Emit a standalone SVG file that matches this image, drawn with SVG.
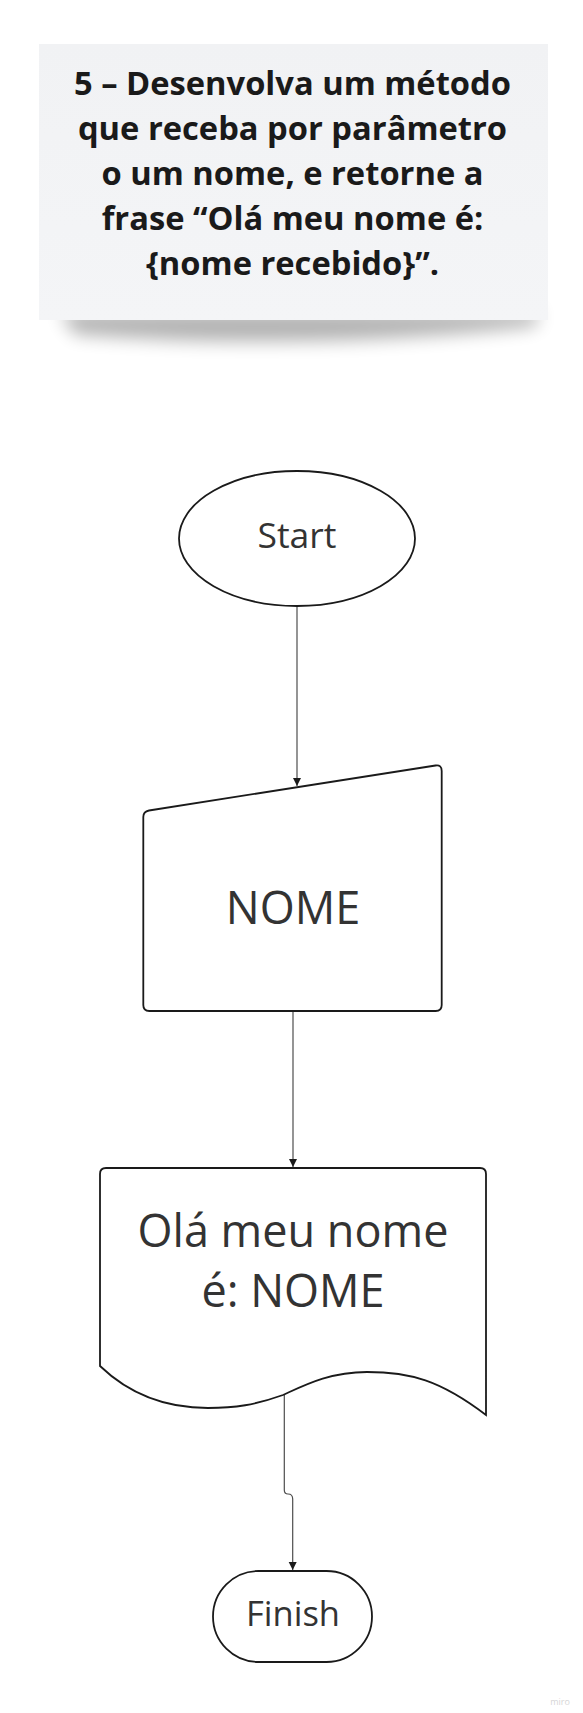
<svg xmlns="http://www.w3.org/2000/svg" width="583" height="1713" viewBox="0 0 583 1713">
<style>
.shape{fill:#ffffff;stroke:#1a1a1a;stroke-width:1.8}
.lbl{font-family:"Open Sans","Noto Sans",sans-serif;fill:#333333;text-anchor:middle}
.title{font-family:"Open Sans","Noto Sans",sans-serif;font-weight:bold;font-size:32.7px;fill:#1a1a1a;text-anchor:middle}
.conn{fill:none;stroke:#4d4d4d;stroke-width:1.2}
</style>
<defs>
<marker id="arr" viewBox="0 0 10 10" refX="10" refY="5" markerWidth="8" markerHeight="16" markerUnits="userSpaceOnUse" orient="auto">
<path d="M0,0 L10,5 L0,10 z" fill="#1a1a1a"/>
</marker>
<filter id="sh" x="-20%" y="-100%" width="140%" height="300%">
<feGaussianBlur stdDeviation="9"/>
</filter>
<linearGradient id="noteg" x1="0" y1="0" x2="0" y2="1">
<stop offset="0" stop-color="#f1f2f4"/>
<stop offset="1" stop-color="#f4f5f7"/>
</linearGradient>
</defs>
<rect width="583" height="1713" fill="#ffffff"/>
<g id="note">
<path d="M60,312 L540,312 L535,326 Q300,352 75,334 Z" fill="#000" opacity="0.3" filter="url(#sh)"/>
<rect x="39" y="44" width="509" height="276" fill="url(#noteg)"/>
<text class="title" x="292.5" y="95">5 – Desenvolva um método</text>
<text class="title" x="292.5" y="140">que receba por parâmetro</text>
<text class="title" x="292.5" y="185">o um nome, e retorne a</text>
<text class="title" x="292.5" y="230">frase “Olá meu nome é:</text>
<text class="title" x="292.5" y="275">{nome recebido}”.</text>
</g>
<g id="connectors">
<path class="conn" d="M297,606 L297,786" marker-end="url(#arr)"/>
<path class="conn" d="M293,1012 L293,1167" marker-end="url(#arr)"/>
<path class="conn" d="M284.3,1395 L284.3,1490 Q284.3,1494 288,1494 Q292.7,1494 292.7,1499 L292.7,1570" marker-end="url(#arr)"/>
</g>
<g id="start">
<ellipse class="shape" cx="297" cy="538.5" rx="118" ry="67.5"/>
<text class="lbl" x="297" y="548" font-size="35.5">Start</text>
</g>
<g id="input">
<path class="shape" d="M149,810.5 L435.5,765.5 Q441.7,764.5 441.7,771 L441.7,1005 Q441.7,1011 435.7,1011 L149.3,1011 Q143.3,1011 143.3,1005 L143.3,817 Q143.3,811.5 149,810.5 Z"/>
<text class="lbl" x="293" y="924" font-size="45">NOME</text>
</g>
<g id="output">
<path class="shape" d="M106,1168 L480,1168 Q486,1168 486,1174 L486,1415 C440,1380 410,1372 367,1372 C330,1372 305,1385 283,1395 C255,1405 235,1408 208,1408 C160,1408 125,1390 100,1366 L100,1174 Q100,1168 106,1168 Z"/>
<text class="lbl" x="293" y="1247" font-size="45">Olá meu nome</text>
<text class="lbl" x="293" y="1307" font-size="45">é: NOME</text>
</g>
<g id="finish">
<rect class="shape" x="213" y="1571" width="159" height="91" rx="45.5"/>
<text class="lbl" x="293" y="1626" font-size="34.5">Finish</text>
</g>
<text x="560" y="1705" font-family="'Open Sans',sans-serif" font-size="9" fill="#d6d6d6" text-anchor="middle">miro</text>
</svg>
